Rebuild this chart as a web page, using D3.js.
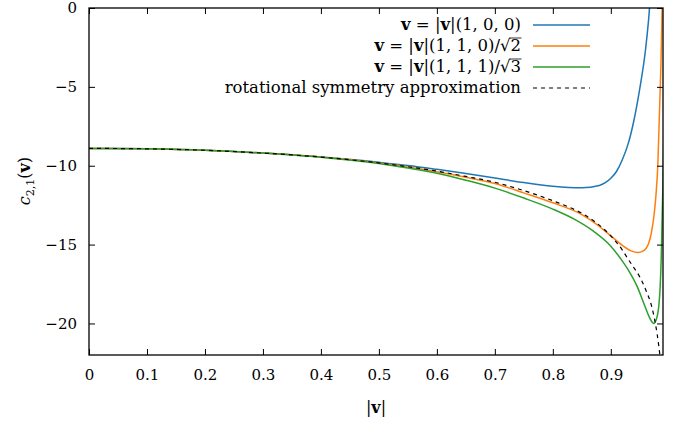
<!DOCTYPE html>
<html>
<head>
<meta charset="utf-8">
<script src="https://cdn.jsdelivr.net/npm/d3@7"></script>
<style>
  body { margin: 0; background: #fff; }
  svg text { font-family: "DejaVu Serif", serif; fill: #000; }
</style>
</head>
<body>
<svg id="chart" width="682" height="424"></svg>
<script>
// values: |v| and c_{2,1}(v)
var xTicks = [0, 0.1, 0.2, 0.3, 0.4, 0.5, 0.6, 0.7, 0.8, 0.9];
var yTicks = [0, -5, -10, -15, -20];

var vBlue = [0, 0.1, 0.2, 0.3, 0.4, 0.5, 0.55, 0.6, 0.65, 0.7, 0.75, 0.8, 0.85, 0.88, 0.9, 0.91, 0.92, 0.93, 0.94, 0.95, 0.96, 0.965, 0.97];
var cBlue = [-8.9, -8.93, -9.02, -9.2, -9.45, -9.78, -9.98, -10.23, -10.5, -10.78, -11.07, -11.3, -11.4, -11.25, -10.8, -10.35, -9.6, -8.6, -7.1, -5.1, -2.6, -0.8, 1.5];

var vOrange = [0, 0.1, 0.2, 0.3, 0.4, 0.5, 0.55, 0.6, 0.65, 0.7, 0.75, 0.8, 0.85, 0.875, 0.9, 0.92, 0.935, 0.947, 0.955, 0.96, 0.965, 0.97, 0.975, 0.978, 0.981, 0.984, 0.9865, 0.9885, 0.99];
var cOrange = [-8.9, -8.93, -9.02, -9.2, -9.45, -9.82, -10.08, -10.38, -10.73, -11.13, -11.72, -12.35, -13.1, -13.7, -14.45, -15.05, -15.4, -15.5, -15.42, -15.28, -14.95, -14.25, -13.0, -11.8, -10.0, -6.5, -3.5, 0, 2.5];

var vGreen = [0, 0.1, 0.2, 0.3, 0.4, 0.5, 0.55, 0.6, 0.65, 0.7, 0.75, 0.8, 0.84, 0.87, 0.9, 0.92, 0.93, 0.945, 0.957, 0.966, 0.9705, 0.974, 0.978, 0.981, 0.983, 0.985, 0.987, 0.9887, 0.99, 0.992];
var cGreen = [-8.9, -8.93, -9.02, -9.2, -9.46, -9.86, -10.15, -10.48, -10.92, -11.42, -12.05, -12.75, -13.45, -14.15, -15.1, -16.05, -16.6, -17.62, -18.73, -19.57, -19.88, -20.0, -19.8, -19.36, -18.8, -17.75, -15.8, -13.0, -11.0, -7.0];

var vApprox = [0, 0.1, 0.2, 0.3, 0.4, 0.5, 0.55, 0.6, 0.65, 0.7, 0.75, 0.8, 0.85, 0.875, 0.9, 0.92, 0.93, 0.94, 0.95, 0.96, 0.97, 0.975, 0.98, 0.985, 0.988];
var cApprox = [-8.9, -8.93, -9.02, -9.2, -9.45, -9.82, -10.06, -10.34, -10.68, -11.05, -11.58, -12.22, -13.02, -13.62, -14.45, -15.35, -15.93, -16.48, -17.05, -17.85, -18.85, -19.65, -20.7, -22.1, -23.0];

var series = [
  { v: vBlue, c: cBlue, color: "#1f77b4", dash: null },
  { v: vOrange, c: cOrange, color: "#ff7f0e", dash: null },
  { v: vGreen, c: cGreen, color: "#2ca02c", dash: null },
  { v: vApprox, c: cApprox, color: "#000", dash: "4,4" }
];

var margin = { left: 89, right: 19, top: 8, bottom: 69 };
var svg = d3.select("#chart");
var width = 682, height = 424;
var innerWidth = width - margin.left - margin.right;
var innerHeight = height - margin.top - margin.bottom;

var x = d3.scaleLinear().domain([0, 0.99]).range([margin.left, margin.left + innerWidth]);
var y = d3.scaleLinear().domain([-22, 0]).range([margin.top + innerHeight, margin.top]);

svg.append("defs").append("clipPath").attr("id", "clip")
  .append("rect")
  .attr("x", margin.left).attr("y", margin.top)
  .attr("width", innerWidth).attr("height", innerHeight);

var line = d3.line()
  .x(d => x(d[0]))
  .y(d => y(d[1]))
  .curve(d3.curveMonotoneX);

var plot = svg.append("g").attr("clip-path", "url(#clip)");
series.forEach(function(s) {
  var pts = s.v.map((v, i) => [v, s.c[i]]);
  plot.append("path")
    .datum(pts)
    .attr("d", line)
    .attr("fill", "none")
    .attr("stroke", s.color)
    .attr("stroke-width", s.dash ? 1.2 : 1.5)
    .attr("stroke-dasharray", s.dash);
});

// axes: ticks point inward on all four sides
var fmtY = d => d === 0 ? "0" : "\u2212" + Math.abs(d);
var bottom = svg.append("g")
  .attr("transform", `translate(0, ${margin.top + innerHeight})`)
  .call(d3.axisBottom(x).tickValues(xTicks).tickSizeInner(-6).tickSizeOuter(0).tickPadding(14)
    .tickFormat(d => d === 0 ? "0" : d3.format(".1f")(d)));
var top_ = svg.append("g")
  .attr("transform", `translate(0, ${margin.top})`)
  .call(d3.axisTop(x).tickValues(xTicks).tickSizeInner(-6).tickSizeOuter(0).tickFormat(""));
var left = svg.append("g")
  .attr("transform", `translate(${margin.left}, 0)`)
  .call(d3.axisLeft(y).tickValues(yTicks).tickSizeInner(-6).tickSizeOuter(0).tickPadding(12).tickFormat(fmtY));
var right = svg.append("g")
  .attr("transform", `translate(${margin.left + innerWidth}, 0)`)
  .call(d3.axisRight(y).tickValues(yTicks).tickSizeInner(-6).tickSizeOuter(0).tickFormat(""));

// mirrored axes only carry tick marks
top_.selectAll(".tick text").remove();
right.selectAll(".tick text").remove();

[bottom, top_, left, right].forEach(function(g) {
  g.attr("font-family", null);
  g.select(".domain").remove();
  g.selectAll(".tick line").attr("stroke", "#000").attr("stroke-width", 1);
  g.selectAll(".tick text").style("font-size", "15px").attr("fill", "#000");
});

svg.append("rect")
  .attr("x", margin.left).attr("y", margin.top)
  .attr("width", innerWidth).attr("height", innerHeight)
  .attr("fill", "none").attr("stroke", "#000").attr("stroke-width", 1.3);

// axis labels
var xl = svg.append("text")
  .attr("x", x(0.495)).attr("y", 413)
  .attr("text-anchor", "middle").style("font-size", "16px");
xl.append("tspan").text("|");
xl.append("tspan").attr("font-weight", "bold").text("v");
xl.append("tspan").text("|");

var yl = svg.append("text")
  .attr("transform", "translate(30, 181) rotate(-90)")
  .attr("text-anchor", "middle").style("font-size", "16px");
yl.append("tspan").attr("font-style", "italic").text("c");
yl.append("tspan").attr("dy", 4).style("font-size", "11px").text("2,1");
yl.append("tspan").attr("dy", -4).text("(");
yl.append("tspan").attr("font-weight", "bold").text("v");
yl.append("tspan").text(")");

// legend
var legendLabels = [
  ["(1, 0, 0)", ""],
  ["(1, 1, 0)/\u221A", "2"],
  ["(1, 1, 1)/\u221A", "3"]
];
var legendY = [25, 46, 67, 88];
var lg = svg.append("g");
legendLabels.forEach(function(lab, i) {
  var t = lg.append("text")
    .attr("x", 521).attr("y", legendY[i] + 5)
    .attr("text-anchor", "end").style("font-size", "16.5px");
  t.append("tspan").attr("font-weight", "bold").text("v");
  t.append("tspan").text(" = |");
  t.append("tspan").attr("font-weight", "bold").text("v");
  t.append("tspan").text("|" + lab[0] + lab[1]);
  if (lab[1]) {
    var n = t.node().getNumberOfChars();
    var last = t.node().getExtentOfChar(n - 1);
    var root = t.node().getExtentOfChar(n - 2);
    lg.append("line")
      .attr("x1", root.x + root.width - 1).attr("x2", last.x + last.width + 0.5)
      .attr("y1", root.y + 2).attr("y2", root.y + 2)
      .attr("stroke", "#000").attr("stroke-width", 0.8);
  }
});
lg.append("text")
  .attr("x", 521).attr("y", legendY[3] + 5)
  .attr("text-anchor", "end").style("font-size", "16.5px")
  .text("rotational symmetry approximation");

series.forEach(function(s, i) {
  lg.append("line")
    .attr("x1", 533).attr("x2", 590)
    .attr("y1", legendY[i]).attr("y2", legendY[i])
    .attr("stroke", s.color)
    .attr("stroke-width", s.dash ? 1.2 : 1.5)
    .attr("stroke-dasharray", s.dash);
});
</script>
</body>
</html>
